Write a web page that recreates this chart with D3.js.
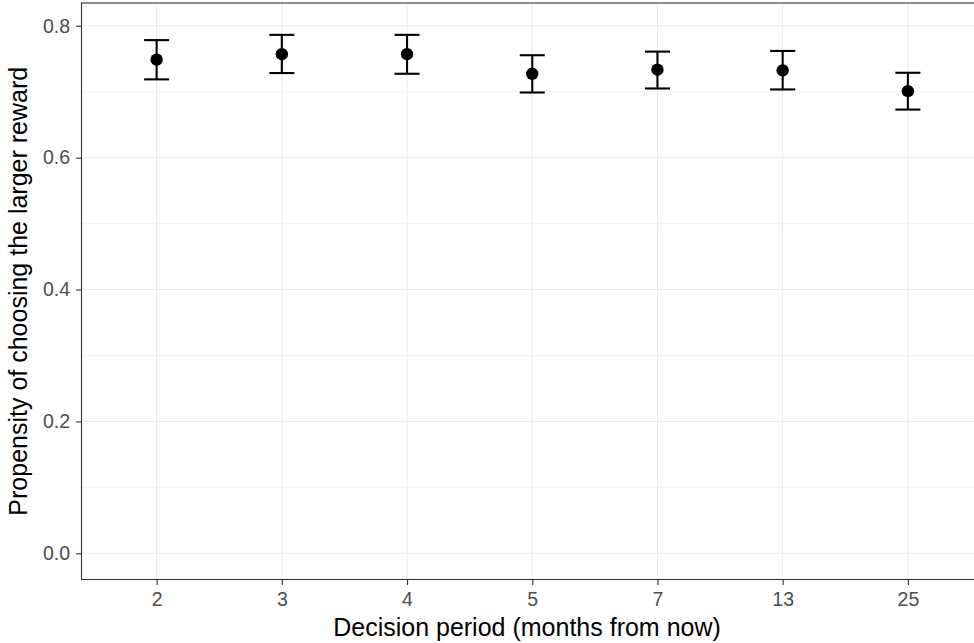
<!DOCTYPE html>
<html><head><meta charset="utf-8">
<script src="https://cdn.jsdelivr.net/npm/d3@7"></script>
<style>body{margin:0;background:#fff}svg{display:block}text{font-family:"Liberation Sans",Arial,Helvetica,sans-serif}</style>
</head><body><svg id="c" width="974" height="643"></svg>
<script>
const categories = ["2","3","4","5","7","13","25"];
const means = [0.7486,0.7568,0.7568,0.7272,0.7333,0.7324,0.7008];
const lower = [0.7187,0.7283,0.7272,0.6988,0.7049,0.7034,0.6729];
const upper = [0.7782,0.7862,0.7862,0.7553,0.7608,0.7618,0.7287];
const yTicks = [0,0.2,0.4,0.6,0.8];
const yMinor = [0.1,0.3,0.5,0.7];

const svg = d3.select("#c");
const L=81.5, R=983, T=3, B=579.5;
const x = d3.scalePoint().domain(categories).range([L,R]).padding(0.6);
const y = d3.scaleLinear().domain([-0.0397,0.8345]).range([B,T]);

const g = svg.append("g");
g.append("rect").attr("x",L).attr("y",T).attr("width",R-L).attr("height",B-T).attr("fill","#fff");
g.selectAll(".mn").data(yMinor).join("line").attr("x1",L).attr("x2",R)
  .attr("y1",d=>y(d)).attr("y2",d=>y(d)).attr("stroke","#EBEBEB").attr("stroke-width",0.55);
g.selectAll(".mj").data(yTicks).join("line").attr("x1",L).attr("x2",R)
  .attr("y1",d=>y(d)).attr("y2",d=>y(d)).attr("stroke","#EBEBEB").attr("stroke-width",1.1);
g.selectAll(".vx").data(categories).join("line").attr("y1",T).attr("y2",B)
  .attr("x1",d=>x(d)).attr("x2",d=>x(d)).attr("stroke","#EBEBEB").attr("stroke-width",1.1);

const data = categories.map((c,i)=>({c,m:means[i],lo:lower[i],hi:upper[i]}));
const hw = x.step()*0.1;
const eb = g.selectAll(".eb").data(data).join("g");
eb.append("line").attr("x1",d=>x(d.c)).attr("x2",d=>x(d.c)).attr("y1",d=>y(d.lo)).attr("y2",d=>y(d.hi)).attr("stroke","#000").attr("stroke-width",2.1);
eb.append("line").attr("x1",d=>x(d.c)-hw).attr("x2",d=>x(d.c)+hw).attr("y1",d=>y(d.lo)).attr("y2",d=>y(d.lo)).attr("stroke","#000").attr("stroke-width",2.1);
eb.append("line").attr("x1",d=>x(d.c)-hw).attr("x2",d=>x(d.c)+hw).attr("y1",d=>y(d.hi)).attr("y2",d=>y(d.hi)).attr("stroke","#000").attr("stroke-width",2.1);
eb.append("circle").attr("cx",d=>x(d.c)).attr("cy",d=>y(d.m)).attr("r",6.2).attr("fill","#000");

g.append("rect").attr("x",L).attr("y",T).attr("width",R-L).attr("height",B-T).attr("fill","none").attr("stroke","#333").attr("stroke-width",1.1);

const ya = svg.append("g").attr("transform",`translate(${L},0)`)
  .call(d3.axisLeft(y).tickValues(yTicks).tickFormat(d3.format(".1f")).tickSize(5.5).tickPadding(6));
const xa = svg.append("g").attr("transform",`translate(0,${B})`)
  .call(d3.axisBottom(x).tickSize(5.5).tickPadding(7.5));
[ya,xa].forEach(a=>{a.select(".domain").remove();
  a.attr("font-size",null).attr("font-family",null);
  a.selectAll(".tick line").attr("stroke","#333").attr("stroke-width",1.1);
  a.selectAll(".tick text").attr("fill","#4D4D4D").style("font-size","19.5px");});

svg.append("text").attr("x",527).attr("y",636).attr("text-anchor","middle")
  .style("font-size","25px").attr("fill","#000").text("Decision period (months from now)");
svg.append("text").attr("transform",`translate(27,${(T+B)/2}) rotate(-90)`).attr("text-anchor","middle")
  .style("font-size","25px").attr("fill","#000").text("Propensity of choosing the larger reward");
</script></body></html>
